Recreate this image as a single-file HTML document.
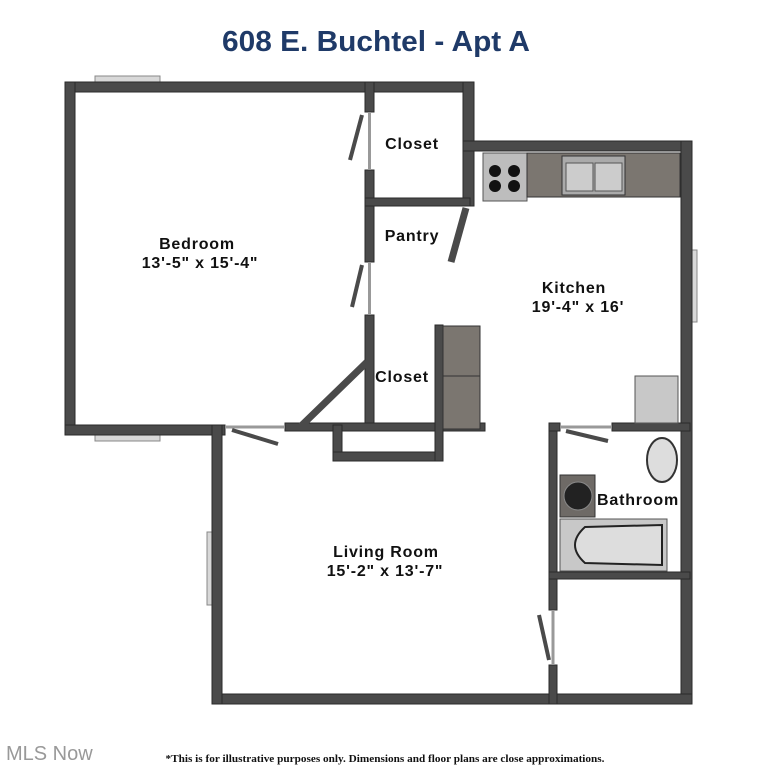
<!DOCTYPE html><html><head><style>body{margin:0;background:#fff}svg{display:block}</style></head><body>
<svg width="758" height="768" viewBox="0 0 758 768" xmlns="http://www.w3.org/2000/svg" font-family="Liberation Sans, sans-serif">
<rect width="758" height="768" fill="#fff"/>
<text x="376" y="51" text-anchor="middle" font-size="29" font-weight="bold" fill="#1f3a68" textLength="308" lengthAdjust="spacingAndGlyphs">608 E. Buchtel - Apt A</text>
<g fill="#d8d8d8" stroke="#888" stroke-width="1">
<rect x="95" y="76" width="65" height="6"/><rect x="95" y="435" width="65" height="6"/>
<rect x="692" y="250" width="5" height="72"/><rect x="207" y="532" width="5" height="73"/>
</g>
<g fill="#4a4a4a" stroke="#2a2a2a" stroke-width="1">
<rect x="65" y="82" width="409" height="10"/>
<rect x="65" y="82" width="10" height="353"/>
<rect x="65" y="425" width="160" height="10"/>
<rect x="463" y="82" width="11" height="124"/>
<rect x="463" y="141" width="229" height="10"/>
<rect x="681" y="141" width="11" height="563"/>
<rect x="212" y="694" width="480" height="10"/>
<rect x="212" y="425" width="10" height="279"/>
<rect x="365" y="82" width="9" height="30"/>
<rect x="365" y="170" width="9" height="92"/>
<rect x="365" y="315" width="9" height="116"/>
<rect x="365" y="198" width="105" height="8"/>
<rect x="285" y="423" width="200" height="8"/>
<rect x="333" y="425" width="9" height="36"/>
<rect x="333" y="452" width="110" height="9"/>
<rect x="435" y="325" width="8" height="136"/>
<rect x="549" y="423" width="8" height="187"/>
<rect x="549" y="665" width="8" height="39"/>
<rect x="549" y="423" width="11" height="8"/>
<rect x="612" y="423" width="78" height="8"/>
<rect x="549" y="572" width="141" height="7"/>
</g>
<g stroke="#999" stroke-width="3" fill="none">
<line x1="369.5" y1="112" x2="369.5" y2="170"/><line x1="369.5" y1="262" x2="369.5" y2="315"/>
<line x1="225" y1="427" x2="285" y2="427"/><line x1="560" y1="427" x2="612" y2="427"/>
<line x1="553" y1="610" x2="553" y2="665"/>
</g>
<g stroke="#4a4a4a" stroke-width="4" fill="none">
<line x1="362" y1="115" x2="350" y2="160"/><line x1="362" y1="265" x2="352" y2="307"/>
<line x1="232" y1="430" x2="278" y2="444"/><line x1="566" y1="431" x2="608" y2="441"/>
<line x1="539" y1="615" x2="549" y2="660"/>
</g>
<line x1="466" y1="208" x2="451" y2="262" stroke="#4a4a4a" stroke-width="7"/>
<line x1="300" y1="427" x2="367" y2="362" stroke="#4a4a4a" stroke-width="7"/>
<rect x="443" y="326" width="37" height="103" fill="#7b7670" stroke="#333"/>
<line x1="443" y1="376" x2="480" y2="376" stroke="#333"/>
<rect x="483" y="153" width="44" height="48" fill="#bdbdbd" stroke="#555"/>
<g fill="#111"><circle cx="495" cy="171" r="6"/><circle cx="495" cy="186" r="6"/><circle cx="514" cy="171" r="6"/><circle cx="514" cy="186" r="6"/></g>
<rect x="527" y="153" width="153" height="44" fill="#7b7670" stroke="#333"/>
<rect x="562" y="156" width="63" height="39" fill="#aaa" stroke="#333"/>
<rect x="566" y="163" width="27" height="28" fill="#ccc" stroke="#555"/><rect x="595" y="163" width="27" height="28" fill="#ccc" stroke="#555"/>
<rect x="635" y="376" width="43" height="47" fill="#c8c8c8" stroke="#555"/>
<ellipse cx="662" cy="460" rx="15" ry="22" fill="#ddd" stroke="#333" stroke-width="2"/>
<rect x="560" y="475" width="35" height="42" fill="#6e6a66" stroke="#333"/>
<circle cx="578" cy="496" r="14" fill="#222" stroke="#888"/>
<rect x="560" y="519" width="107" height="52" fill="#c8c8c8" stroke="#555"/>
<path d="M585 527 L662 525 L662 565 L585 563 Q565 545 585 527Z" fill="#ddd" stroke="#222" stroke-width="2"/>
<g font-weight="bold" fill="#111" text-anchor="middle" font-size="16" letter-spacing="0.8">
<text x="197" y="249">Bedroom</text><text x="200" y="268">13'-5" x 15'-4"</text>
<text x="412" y="149">Closet</text><text x="412" y="241">Pantry</text>
<text x="574" y="293">Kitchen</text><text x="578" y="312">19'-4" x 16'</text>
<text x="402" y="382">Closet</text><text x="638" y="505">Bathroom</text>
<text x="386" y="557">Living Room</text><text x="385" y="576">15'-2" x 13'-7"</text>
</g>
<text x="385" y="762" text-anchor="middle" font-family="Liberation Serif, serif" font-weight="bold" font-size="11" fill="#111" textLength="439" lengthAdjust="spacingAndGlyphs">*This is for illustrative purposes only. Dimensions and floor plans are close approximations.</text>
<text x="6" y="760" font-size="20" fill="#999">MLS Now</text>
</svg></body></html>
